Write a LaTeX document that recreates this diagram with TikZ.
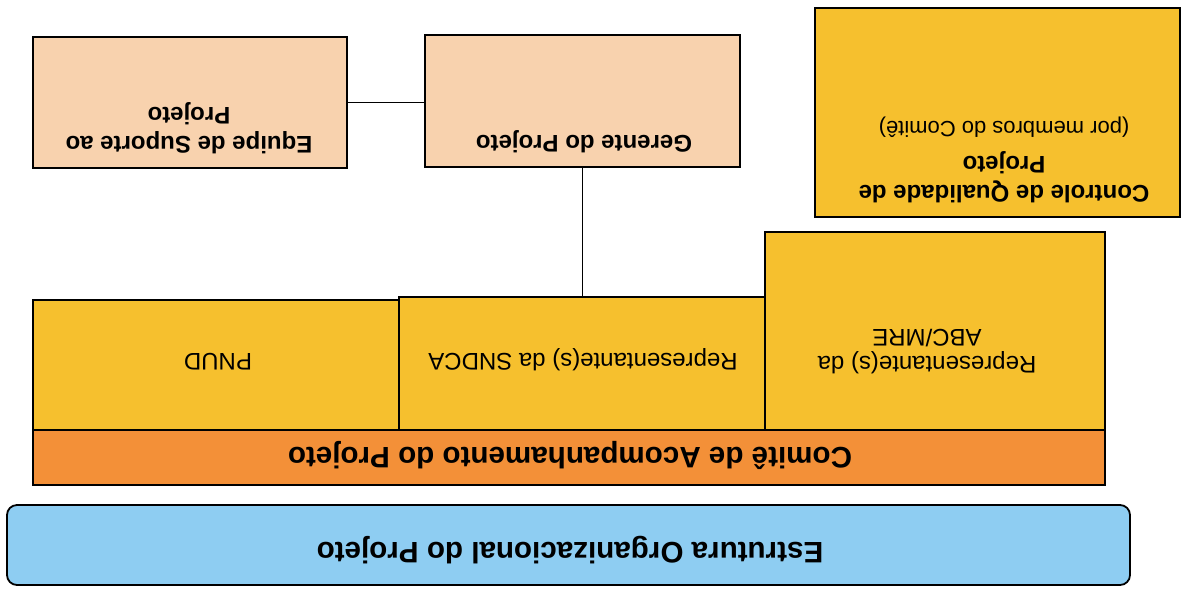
\documentclass[tikz,border=0pt]{standalone}
\usepackage{fontspec}
\setmainfont{Liberation Sans}
\usetikzlibrary{positioning}

\definecolor{peach}{HTML}{F8D2AE}
\definecolor{gold}{HTML}{F6C02E}
\definecolor{tangerine}{HTML}{F39038}
\definecolor{skyblue}{HTML}{8ECDF2}

\begin{document}
\begin{tikzpicture}[
        x=0.5pt,
        y=-0.5pt,
        box/.style={draw, line width=0.9pt, inner sep=0pt},
        txt/.style={rotate=180, align=center, inner sep=0pt,
            font=\bfseries\fontsize{12}{14.5}\selectfont},
        plain/.style={txt, font=\fontsize{12}{13.5}\selectfont},
        big/.style={txt, font=\bfseries\fontsize{14.8}{16}\selectfont}
    ]
    \useasboundingbox (0,0) rectangle (1186,590);

    % upper row
    \node[box, fill=peach, minimum width=157pt, minimum height=65.5pt] (equipe) at (190,102.5) {};
    \node[box, fill=peach, minimum width=157.5pt, minimum height=66pt] (gerente) at (582.5,101) {};
    \node[box, fill=gold, minimum width=182.5pt, minimum height=104.5pt] (controle) at (997.5,112.5) {};

    % comite
    \node[box, fill=gold, minimum width=183pt, minimum height=65pt] (pnud) at (216,365) {};
    \node[box, fill=gold, minimum width=183pt, minimum height=66.5pt] (sndca) at (582,363.5) {};
    \node[box, fill=gold, minimum width=170pt, minimum height=99pt] (abc) at (935,331) {};
    \node[box, fill=tangerine, minimum width=536pt, minimum height=27.5pt] (comite) at (569,457.5) {};

    \node[box, fill=skyblue, rounded corners=5pt, minimum width=561.5pt, minimum height=40pt] (estrutura) at (568.5,545) {};

    % labels
    \node[txt] (equipe-txt) at (189,128) {Equipe de Suporte ao\\Projeto};
    \node[txt] (gerente-txt) at (584,142) {Gerente do Projeto};
    \node[txt] (controle-txt) at (1004,160) {Controle de Qualidade de\\Projeto\\[3pt]
        {\normalfont\fontsize{11}{13}\selectfont (por membros do Comitê)}};
    \node[plain] (pnud-txt) at (218,362) {PNUD};
    \node[plain] (sndca-txt) at (583,360) {Representante(s) da SNDCA};
    \node[plain] (abc-txt) at (927,352) {Representante(s) da\\ABC/MRE};
    \node[big] (comite-txt) at (570,455) {Comitê de Acompanhamento do Projeto};
    \node[big] (estrutura-txt) at (570,550) {Estrutura Organizacional do Projeto};

    % links
    \draw[line width=0.9pt] (equipe.east) -- (equipe.east -| gerente.west);
    \draw[line width=0.9pt] (gerente.south) -- (gerente.south |- sndca.north);
\end{tikzpicture}
\end{document}
